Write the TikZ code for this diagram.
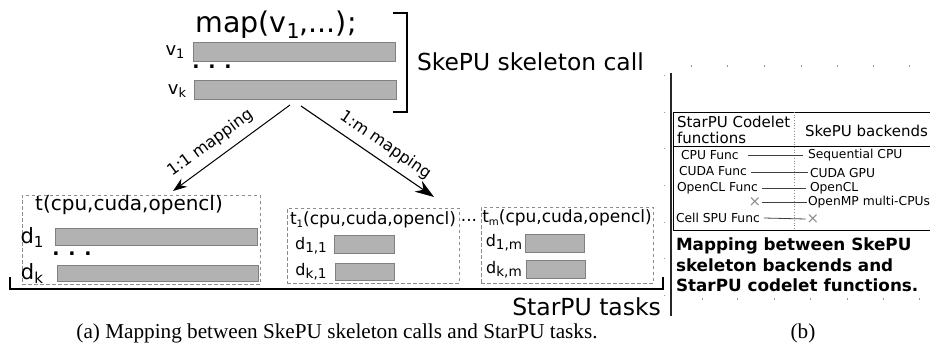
\documentclass[tikz,border=0pt]{standalone}
\usepackage{fontspec}
\setmainfont{DejaVu Sans}
\newfontfamily\serifcap{Liberation Serif}
\usetikzlibrary{arrows.meta,calc}
\newcommand\lsub[2][0.72]{\raisebox{-0.35ex}{\scalebox{#1}{#2}}}
\newcommand\fs[1]{\fontsize{#1}{#1}\selectfont}
\begin{document}
\begin{tikzpicture}[x=1pt,y=-1pt,
  txt/.style={inner sep=0pt, outer sep=0pt},
  bar/.style={draw=black!50, fill=black!30, line width=0.9pt, inner sep=0pt, anchor=north west},
  dbox/.style={draw=black!45, dash pattern=on 3.5pt off 2.5pt, line width=0.8pt, inner sep=0pt, anchor=north west},
  brk/.style={line width=1.5pt, black},
  arrA/.style={line width=1pt, -{Stealth[length=14pt,width=10pt]}},
  arrB/.style={line width=1.1pt, -{Stealth[length=19pt,width=13pt]}},
  mline/.style={line width=0.8pt, black!75},
  tline/.style={line width=0.8pt, black},
  gdot/.style={fill=black!40},
  xmark/.style={txt, text=black!45, font=\fs{15}},
  rowtxt/.style={txt, anchor=west, font=\fs{12.3}},
  arrlab/.style={txt, font=\fs{16}},
  captxt/.style={txt, font=\serifcap\fs{21.2}},
]
\useasboundingbox (0,0) rectangle (930,352);

% ---- skeleton call ----
\node[txt, font=\fs{28.5}] (map) at (276,25) {map(v\lsub{1},...);};
\node[bar, minimum width=202pt, minimum height=19pt] (v1bar) at (193,42) {};
\node[bar, minimum width=202pt, minimum height=19pt] (vkbar) at (194,80) {};
\node[txt, font=\fs{18}] (v1) at (175,52) {v\lsub{1}};
\node[txt, font=\fs{18}] (vk) at (177,91) {v\lsub{k}};
\node[txt, font=\fs{19}\bfseries] (vdots) at (212,67) {. . .};
\draw[brk] (393,13) -- (407,13) -- (407,112) -- (393,112);
\node[txt, anchor=west, font=\fs{23.4}] (call) at (417,62) {SkePU skeleton call};

% ---- arrows ----
\coordinate (s1) at (290,105);
\coordinate (e1) at (173,191);
\coordinate (s2) at (301,106);
\coordinate (e2) at (434,197);
\draw[arrA] (s1) -- (e1);
\draw[arrB] (s2) -- (e2);
\node[arrlab, rotate=36.3] (lab1) at ($(s1)!0.595!(e1)+(-10,-13)$) {1:1 mapping};
\node[arrlab, rotate=-34.4] (lab2) at ($(s2)!0.566!(e2)+(9,-12.5)$) {1:m mapping};

% ---- task t ----
\node[dbox, minimum width=238pt, minimum height=89pt] (tbox) at (22,195) {};
\node[txt, font=\fs{20}] (tlab) at (129,205) {t(cpu,cuda,opencl)};
\node[txt, font=\fs{21}] (d1) at (32,238) {d\lsub{1}};
\node[bar, minimum width=202pt, minimum height=17pt] (d1bar) at (55,228) {};
\node[txt, font=\fs{19}\bfseries] (ddots) at (72,254) {. . .};
\node[txt, font=\fs{21}] (dk) at (32,274) {d\lsub{k}};
\node[bar, minimum width=201pt, minimum height=16pt] (dkbar) at (57,265) {};

% ---- task t1 ----
\node[dbox, minimum width=172pt, minimum height=75pt] (t1box) at (287,208) {};
\node[txt, font=\fs{17}] (t1lab) at (373,220) {t\lsub[0.6]{1}(cpu,cuda,opencl)};
\node[txt, font=\fs{16}] (d11) at (311,246) {d\lsub[0.85]{1,1}};
\node[bar, minimum width=60pt, minimum height=18pt] (d11bar) at (334,235) {};
\node[txt, font=\fs{16}] (dk1) at (311,272) {d\lsub[0.85]{k,1}};
\node[bar, minimum width=59pt, minimum height=17pt] (dk1bar) at (335,263) {};

\node[txt, font=\fs{17}] (between) at (469,220) {...};

% ---- task tm ----
\node[dbox, minimum width=172pt, minimum height=76pt] (tmbox) at (481,207) {};
\node[txt, font=\fs{17}] (tmlab) at (567,218) {t\lsub[0.6]{m}(cpu,cuda,opencl)};
\node[txt, font=\fs{16}] (d1m) at (504,243) {d\lsub[0.85]{1,m}};
\node[bar, minimum width=59pt, minimum height=18pt] (d1mbar) at (525,234) {};
\node[txt, font=\fs{16}] (dkm) at (504,270) {d\lsub[0.85]{k,m}};
\node[bar, minimum width=59pt, minimum height=18pt] (dkmbar) at (526,260) {};

\draw[brk] (10,277) -- (10,289) -- (663,289) -- (663,277);
\node[txt, anchor=east, font=\fs{23.5}] (tasks) at (661,307) {StarPU tasks};

\node[captxt] (capa) at (337,333) {(a) Mapping between SkePU skeleton calls and StarPU tasks.};

% ---- right panel ----
\draw[line width=1.2pt, black!85] (671,73) -- (671,316);
\foreach \x in {691,727,764,801,837,873,909} \fill[gdot] (\x,65.5) rectangle ++(1.3,1.3);
\foreach \x in {702,737,774,810,847,883,919} \fill[gdot] (\x,298.5) rectangle ++(1.3,1.3);
\foreach \y in {75,112,148,185,222,258,295} \fill[gdot] (663.5,\y) rectangle ++(1.3,1.3);

\draw[tline] (932,112) -- (673,112) -- (673,230) -- (932,230);
\draw[tline] (673,146) -- (932,146);
\draw[line width=0.7pt, black!45, dotted] (794,112) -- (794,230);

\node[txt, anchor=west, align=left, font=\fs{15}, execute at begin node=\setlength{\baselineskip}{16pt}] (hl) at (677,130) {StarPU Codelet\\functions};
\node[txt, anchor=west, font=\fs{15}] (hr) at (805,131) {SkePU backends};

\node[rowtxt] (cpuf) at (681,155) {CPU Func};
\node[rowtxt] (seq) at (808,155) {Sequential CPU};
\node[rowtxt] (cudaf) at (679,171) {CUDA Func};
\node[rowtxt] (cudag) at (810,173) {CUDA GPU};
\node[rowtxt] (oclf) at (677,188) {OpenCL Func};
\node[rowtxt] (ocl) at (810,188) {OpenCL};
\node[xmark] (xl) at (755,202) {×};
\node[rowtxt] (omp) at (808,202) {OpenMP multi-CPUs};
\node[rowtxt] (cellf) at (676,218) {Cell SPU Func};
\node[xmark] (xr) at (813,219) {×};

\draw[mline] ($(cpuf.east)+(9,0)$) -- ($(seq.west)+(-5,0)$);
\draw[mline] ($(cudaf.east)+(4,1)$) -- ($(cudag.west)+(-2,-1)$);
\draw[mline] ($(oclf.east)+(4,0)$) -- ($(ocl.west)+(-4,0)$);
\draw[mline] ($(xl.east)+(1,0)$) -- ($(omp.west)+(-1,0)$);
\draw[mline] ($(cellf.east)+(4,0)$) -- ($(xr.west)+(-1,0)$);

\node[txt, anchor=west, align=left, font=\fs{16.8}\bfseries, execute at begin node=\setlength{\baselineskip}{20.5pt}] (capbold) at (676,265) {Mapping between SkePU\\skeleton backends and\\StarPU codelet functions.};

\node[captxt] (capb) at (803,333) {(b)};
\end{tikzpicture}
\end{document}
